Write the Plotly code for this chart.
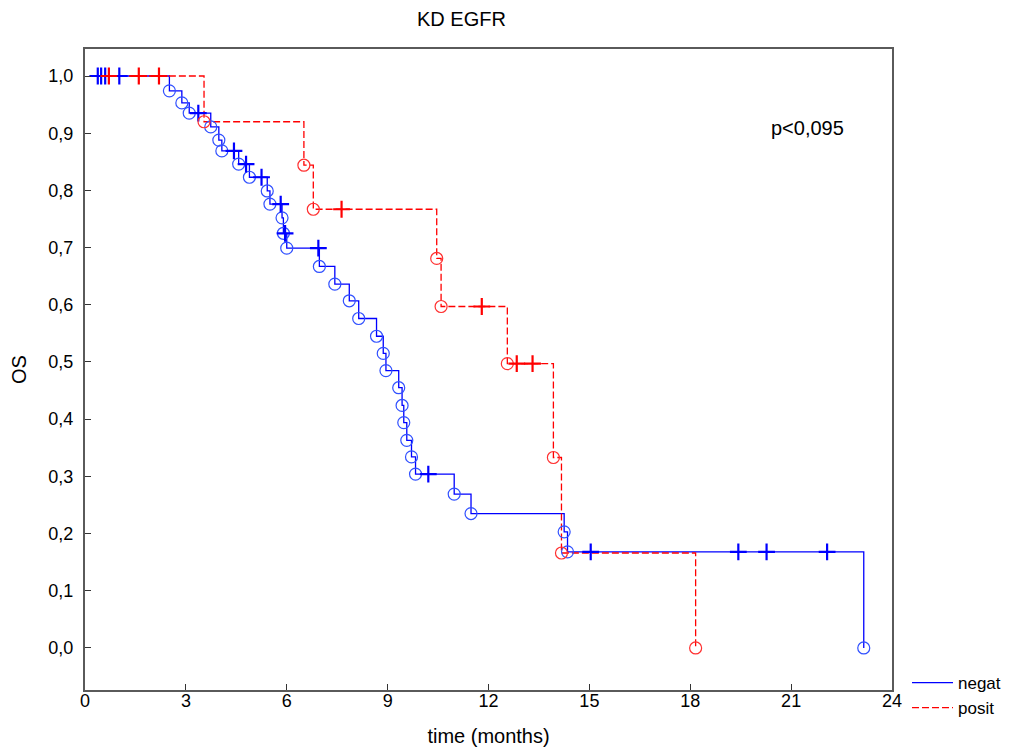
import plotly.graph_objects as go

# ---- data (time in months, OS survival) ----
neg_start = 0.2
neg_event_t = [2.51, 2.88, 3.10, 3.74, 3.98, 4.07, 4.57, 4.89, 5.42, 5.50, 5.86, 5.90, 6.00,
               6.97, 7.43, 7.86, 8.14, 8.67, 8.87, 8.95, 9.33, 9.43, 9.48, 9.57, 9.71, 9.83,
               10.98, 11.48, 14.25, 14.35, 23.16]
neg_event_s = [0.974, 0.953, 0.935, 0.911, 0.888, 0.869, 0.846, 0.823, 0.799, 0.776, 0.752, 0.725, 0.699,
               0.667, 0.636, 0.607, 0.576, 0.545, 0.515, 0.485, 0.455, 0.424, 0.394, 0.363, 0.334, 0.304,
               0.269, 0.235, 0.203, 0.168, 0.0]
neg_cens_t = [0.38, 0.48, 0.60, 1.02, 3.37, 4.43, 4.79, 5.25, 5.82, 5.95, 6.94, 10.21,
              15.04, 19.43, 20.27, 22.07]

pos_start = 0.71
pos_event_t = [3.54, 6.51, 6.79, 10.46, 10.59, 12.56, 13.93, 14.17, 18.16]
pos_event_s = [0.920, 0.844, 0.767, 0.681, 0.597, 0.497, 0.333, 0.166, 0.0]
pos_cens_t = [0.71, 1.60, 2.20, 7.63, 11.80, 12.84, 13.31]

x_ticks = [0, 3, 6, 9, 12, 15, 18, 21, 24]
y_ticks = [0.0, 0.1, 0.2, 0.3, 0.4, 0.5, 0.6, 0.7, 0.8, 0.9, 1.0]
y_ticktext = ["0,0", "0,1", "0,2", "0,3", "0,4", "0,5", "0,6", "0,7", "0,8", "0,9", "1,0"]

BLUE = "#0000ff"
BLUE_M = "#3050ff"
RED = "#ff0000"
RED_M = "#ff3030"
FONT = "Liberation Sans, Arial, sans-serif"


def level(t, ev_t, ev_s):
    s = 1.0
    for a, b in zip(ev_t, ev_s):
        if a <= t:
            s = b
    return s


fig = go.Figure()

groups = [
    ("negat", neg_start, neg_event_t, neg_event_s, neg_cens_t, BLUE, BLUE_M, "solid"),
    ("posit", pos_start, pos_event_t, pos_event_s, pos_cens_t, RED, RED_M, "7px,3px"),
]

for name, st, et, es, ct, col, mcol, dash in groups:
    fig.add_trace(go.Scatter(
        x=[st] + et, y=[1.0] + es, mode="lines", name=name,
        line=dict(color=col, width=1.3, dash=dash, shape="hv"),
        showlegend=True, hoverinfo="skip"))

for name, st, et, es, ct, col, mcol, dash in groups:
    fig.add_trace(go.Scatter(
        x=et, y=es, mode="markers", showlegend=False,
        marker=dict(symbol="circle-open", size=12, color=mcol, line=dict(width=1.2, color=mcol))))
    fig.add_trace(go.Scatter(
        x=ct, y=[level(t, et, es) for t in ct], mode="markers", showlegend=False,
        marker=dict(symbol="cross-thin", size=12, color=col, line=dict(width=2.2, color=col))))

axis_common = dict(showline=True, mirror=True, linecolor="#5a5a5a", linewidth=2,
                   ticks="inside", ticklen=6, tickcolor="#333333", showgrid=False,
                   zeroline=False, automargin=False,
                   tickfont=dict(family=FONT, size=18, color="#000000"))

fig.update_xaxes(range=[0, 24], tickvals=x_ticks, ticktext=[str(v) for v in x_ticks],
                 ticklabelstandoff=-7,
                 title=dict(text="time (months)", font=dict(family=FONT, size=20, color="#000"), standoff=19),
                 **axis_common)
fig.update_yaxes(range=[-0.0735, 1.0472], tickvals=y_ticks, ticktext=y_ticktext,
                 ticklabelstandoff=6,
                 title=dict(text="OS", font=dict(family=FONT, size=20, color="#000"), standoff=16),
                 **axis_common)

fig.add_annotation(text="KD EGFR", x=0.467, y=1.0, xref="paper", yref="paper",
                   xanchor="center", yanchor="bottom", yshift=17, showarrow=False,
                   font=dict(family=FONT, size=20, color="#000"))
fig.add_annotation(text="p<0,095", x=21.5, y=0.909, xref="x", yref="y",
                   xanchor="center", yanchor="middle", showarrow=False,
                   font=dict(family=FONT, size=20, color="#000"))

fig.update_layout(
    width=1011, height=748,
    margin=dict(l=85, r=119, t=49, b=58, autoexpand=False),
    paper_bgcolor="white", plot_bgcolor="white",
    font=dict(family=FONT, size=18, color="#000"),
    legend=dict(x=1.0186, y=0.039, xanchor="left", yanchor="top",
                font=dict(family=FONT, size=17, color="#000"),
                itemwidth=41, tracegroupgap=0, bgcolor="rgba(0,0,0,0)"),
)

fig.write_html("out.html")
